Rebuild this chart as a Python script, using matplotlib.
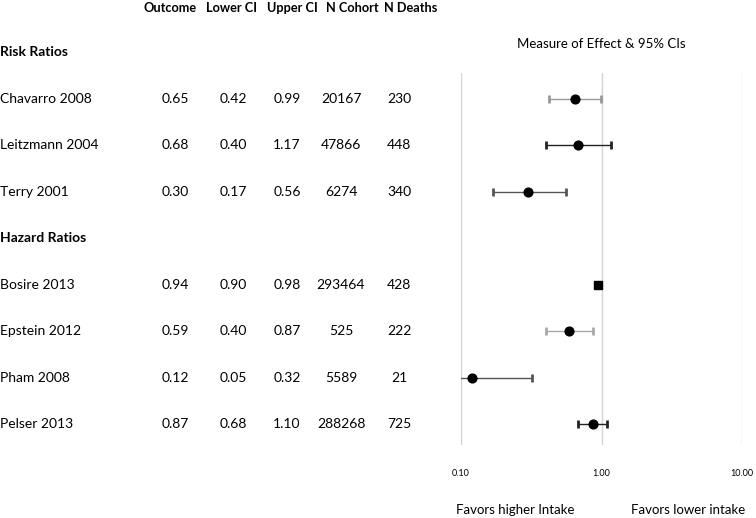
import matplotlib.pyplot as plt
import numpy as np

plt.rcParams['font.family'] = ['Lato', 'DejaVu Sans']

# table data
studies = ['Chavarro 2008', 'Leitzmann 2004', 'Terry 2001',
           'Bosire 2013', 'Epstein 2012', 'Pham 2008', 'Pelser 2013']
outcome = [0.65, 0.68, 0.30, 0.94, 0.59, 0.12, 0.87]
lower_ci = [0.42, 0.40, 0.17, 0.90, 0.40, 0.05, 0.68]
upper_ci = [0.99, 1.17, 0.56, 0.98, 0.87, 0.32, 1.10]
n_cohort = [20167, 47866, 6274, 293464, 525, 5589, 288268]
n_deaths = [230, 448, 340, 428, 222, 21, 725]
rows = [1, 2, 3, 5, 6, 7, 8]
groups = ['Risk Ratios', 'Hazard Ratios']
group_rows = [0, 4]
col_names = ['Outcome', 'Lower CI', 'Upper CI', 'N Cohort', 'N Deaths']
ticks = [0.1, 1, 10]
tick_labels = ['0.10', '1.00', '10.00']
markers = ['o', 'o', 'o', 's', 'o', 'o', 'o']
bar_colors = ['#999999', '#222222', '#555555', '#222222', '#aaaaaa', '#555555', '#222222']

W, H = 756, 518
fig = plt.figure(figsize=(W / 100, H / 100), dpi=100)

top, bot = 73, 445
ylim = (8.45, 0.45)

# table part
tab = fig.add_axes([0, 1 - bot / H, 440 / W, (bot - top) / H])
tab.set_xlim(0, 440)
tab.set_ylim(*ylim)
tab.axis('off')
col_x = [175, 233, 287, 341, 399]
head_x = [170, 232, 292, 352, 411]
for hx, name in zip(head_x, col_names):
    tab.text(hx, -0.95, name, ha='center', va='center', fontsize=9.2,
             fontweight='bold', clip_on=False)
for g, r in zip(groups, group_rows):
    tab.text(0, r, g, ha='left', va='center', fontsize=10, fontweight='bold')
for i, r in enumerate(rows):
    tab.text(0, r, studies[i], ha='left', va='center', fontsize=10)
    vals = ['%.2f' % outcome[i], '%.2f' % lower_ci[i], '%.2f' % upper_ci[i],
            str(n_cohort[i]), str(n_deaths[i])]
    for cx, v in zip(col_x, vals):
        tab.text(cx, r, v, ha='center', va='center', fontsize=10)

# forest plot
ax = fig.add_axes([461 / W, 1 - bot / H, (742 - 461) / W, (bot - top) / H])
ax.set_xscale('log')
ax.set_xlim(0.1, 10)
ax.set_ylim(*ylim)
for t in ticks:
    ax.axvline(t, color='#d4d4d4', lw=1, zorder=0)
for i, r in enumerate(rows):
    ax.errorbar(outcome[i], r,
                xerr=[[outcome[i] - lower_ci[i]], [upper_ci[i] - outcome[i]]],
                fmt=markers[i], color='black', ecolor=bar_colors[i],
                elinewidth=1, capsize=3, capthick=2,
                markersize=6.3 if markers[i] == 'o' else 6, zorder=3)
for s in ax.spines.values():
    s.set_visible(False)
ax.set_xticks(ticks)
ax.set_xticklabels(tick_labels, fontsize=6.5)
ax.minorticks_off()
ax.tick_params(axis='x', length=0, pad=17)
ax.set_yticks([])
ax.set_title('Measure of Effect & 95% CIs', fontsize=9.5, pad=18)
fig.text(515 / W, 1 - 510 / H, 'Favors higher Intake', ha='center', va='center', fontsize=9.5)
fig.text(688 / W, 1 - 510 / H, 'Favors lower intake', ha='center', va='center', fontsize=9.5)

fig.savefig('out.png', dpi=100)
